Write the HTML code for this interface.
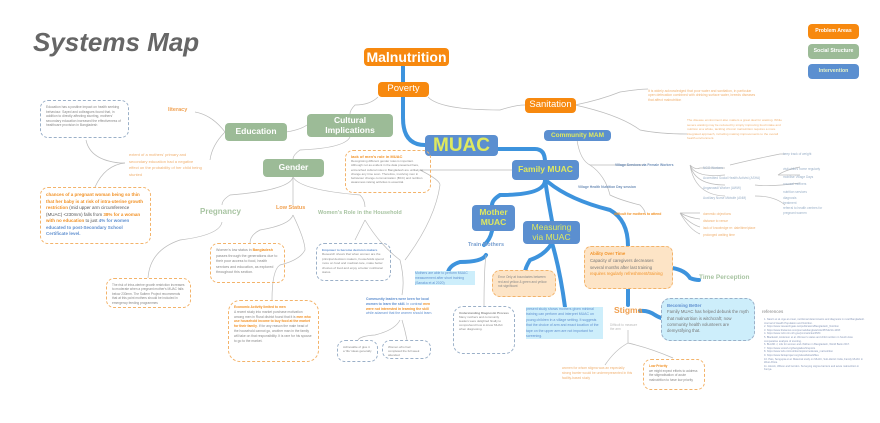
<!DOCTYPE html>
<html><head><meta charset="utf-8"><style>
body{margin:0;width:880px;height:423px;overflow:hidden;background:#fff;font-family:"Liberation Sans",sans-serif;position:relative}
.a{position:absolute;box-sizing:border-box}
.n{position:absolute;box-sizing:border-box;color:#fff;font-weight:bold;text-align:center;border-radius:4px;line-height:1.15;display:flex;align-items:center;justify-content:center;white-space:nowrap}
.o{background:#f7890f}.g{background:#9cbb97}.b{background:#5b8fd0;color:#dfe95f}
.t{position:absolute;font-size:4px;line-height:5px;color:#999}
.box{position:absolute;border:1px dashed #f3b36a;border-radius:8px;font-size:3.8px;line-height:5px;color:#888;padding:4px 5px;box-sizing:border-box;overflow:hidden}
.bb{border-color:#9bb0c8}
.or{color:#f29226}.bl{color:#5f8fcf}
</style></head><body>
<svg class="a" style="left:0;top:0" width="880" height="423">
<g fill="none" stroke="#3d93dd" stroke-width="4" stroke-linecap="round">
<path d="M403 65 V118 Q403 145 425 145"/>
<path d="M497 149 H535 Q545 149 545 162"/>
<path d="M545 180 Q545 195 500 195 Q492 200 492 205"/>
<path d="M545 180 Q548 200 552 221"/>
<path d="M548 182 Q570 200 610 210 Q628 220 628 246"/>
<path d="M552 243 Q560 270 565 307"/>
<path d="M552 243 Q545 255 530 260 Q525 268 525 273"/>
<path d="M492 231 Q490 240 484 245"/>
<path d="M486 255 Q482 262 460 262 Q450 265 448 272"/>
<path d="M672 268 Q685 270 690 278 Q695 280 699 280"/>
<path d="M628 288 V305"/>
<path d="M640 311 Q648 310 655 315 Q660 318 662 318"/>
</g>
<g fill="none" stroke="#bbb" stroke-width="0.7">
<path d="M428 97 Q440 110 500 110 Q515 105 525 105"/>
<path d="M575 105 Q600 100 620 92 Q640 89 648 89"/>
<path d="M575 105 Q620 115 640 130 Q660 134 687 134"/>
<path d="M378 97 Q370 105 355 105 Q350 110 350 114"/>
<path d="M307 125 Q300 130 286 132"/>
<path d="M225 132 Q212 115 195 112"/>
<path d="M225 132 Q212 145 210 160"/>
<path d="M350 137 Q345 148 300 150 Q293 155 293 159"/>
<path d="M293 177 Q290 190 230 195 Q222 200 222 205"/>
<path d="M293 177 V205"/>
<path d="M293 177 Q300 190 360 195 Q365 200 365 207"/>
<path d="M222 222 Q220 235 180 240 Q150 250 148 278"/>
<path d="M293 215 Q290 225 260 230 Q250 235 250 243"/>
<path d="M293 215 Q305 240 305 250 Q300 260 280 265 Q272 270 272 300"/>
<path d="M365 220 Q360 230 355 240"/>
<path d="M365 220 Q380 245 400 260 Q405 280 402 295"/>
<path d="M512 170 H420 Q440 180 440 185"/>
<path d="M440 185 Q435 220 405 260"/>
<path d="M577 140 Q580 160 590 165 H645"/>
<path d="M590 165 Q605 175 610 195 Q620 200 640 205 Q645 210 645 213"/>
<path d="M690 165 Q695 170 700 168 H725 M690 165 Q695 178 725 175 M690 165 Q695 185 725 185 M690 165 Q695 195 725 196"/>
<path d="M730 165 Q750 160 780 154 H785"/>
<path d="M778 175 Q785 170 800 167 M778 175 Q785 175 800 175"/>
<path d="M755 185 Q770 187 800 183"/>
<path d="M755 196 Q775 196 785 205"/>
<path d="M680 213 H700 M680 213 Q690 218 700 219 M680 213 Q690 224 700 227 M680 213 Q690 230 700 234"/>
<path d="M628 330 V343 Q615 350 605 365 M628 343 Q650 348 673 358"/>
<path d="M86 140 Q90 160 120 163 H125"/>
<path d="M125 163 Q105 165 95 187"/>
<path d="M400 320 Q395 330 375 335 Q360 336 358 340 M402 320 Q405 330 407 340"/>
<path d="M486 255 Q484 270 484 307"/>
</g>
</svg>
<div class="a" style="left:33px;top:27px;font-size:26px;font-weight:bold;font-style:italic;color:#666">Systems Map</div>
<div class="n o" style="left:364px;top:48px;width:85px;height:18px;font-size:14px">Malnutrition</div>
<div class="n o" style="left:378px;top:82px;width:51px;height:15px;font-size:9.5px;font-weight:normal">Poverty</div>
<div class="n o" style="left:525px;top:98px;width:51px;height:15px;font-size:9.5px;font-weight:normal">Sanitation</div>
<div class="n b" style="left:425px;top:135px;width:73px;height:21px;font-size:19px">MUAC</div>
<div class="n b" style="left:544px;top:130px;width:67px;height:11px;font-size:6.5px">Community MAM</div>
<div class="n b" style="left:512px;top:160px;width:67px;height:20px;font-size:8.5px">Family MUAC</div>
<div class="n b" style="left:472px;top:205px;width:43px;height:26px;font-size:8.5px">Mother<br>MUAC</div>
<div class="n b" style="left:523px;top:221px;width:57px;height:23px;font-size:8.5px;font-weight:normal">Measuring<br>via MUAC</div>
<div class="n g" style="left:225px;top:123px;width:62px;height:18px;font-size:8.5px">Education</div>
<div class="n g" style="left:307px;top:114px;width:86px;height:23px;font-size:8.5px">Cultural<br>Implications</div>
<div class="n g" style="left:263px;top:159px;width:61px;height:18px;font-size:8.5px">Gender</div>
<div class="n o" style="left:808px;top:24px;width:51px;height:15px;font-size:5.2px">Problem Areas</div>
<div class="n g" style="left:808px;top:44px;width:51px;height:15px;font-size:5.2px">Social Structure</div>
<div class="n b" style="left:808px;top:64px;width:51px;height:15px;font-size:5.2px;color:#e6f2c8">Intervention</div>
<div class="a or" style="left:168px;top:107px;font-size:5.5px;font-weight:bold;color:#f0a050">literacy</div>
<div class="a" style="left:200px;top:207px;font-size:8px;font-weight:bold;color:#a8c4a2">Pregnancy</div>
<div class="a" style="left:276px;top:205px;font-size:5.5px;font-weight:bold;color:#f0a050">Low Status</div>
<div class="a" style="left:318px;top:210px;font-size:5.5px;font-weight:bold;color:#a8c4a2">Women's Role in the Household</div>
<div class="a bl" style="left:468px;top:242px;font-size:5.5px;font-weight:bold;color:#7aa0d0">Train Mothers</div>
<div class="a" style="left:699px;top:274px;font-size:6.5px;font-weight:bold;color:#a8c4a2">Time Perception</div>
<div class="a" style="left:614px;top:305px;font-size:8.5px;font-weight:bold;color:#f0a050">Stigma</div>
<div class="box bb" style="left:40px;top:100px;width:89px;height:38px;font-size:3.3px;line-height:4.5px">Education has a positive impact on health seeking behaviour. Sayed and colleagues found that, in addition to directly affecting stunting, mothers' secondary education increased the effectiveness of healthcare provision in Bangladesh</div>
<div class="t or" style="left:129px;top:152px;width:75px;font-size:4px;line-height:6.5px;color:#f0b070">extent of a mothers' primary and secondary education had a negative effect on the probability of her child being stunted</div>
<div class="box" style="left:40px;top:187px;width:111px;height:57px;font-size:4.5px;line-height:6.5px;color:#555;border-width:1.3px"><b class="or">chances of a pregnant woman being so thin that her baby is at risk of intra-uterine growth restriction</b> (mid upper arm circumference (MUAC) &lt;230mm) falls from <b class="or">38% for a woman with no education</b> to just <b class="bl">4% for women educated to post-Secondary School Certificate level.</b></div>
<div class="box" style="left:106px;top:278px;width:85px;height:30px;font-size:3.2px;line-height:4.4px">The risk of intra-uterine growth restriction increases to moderate when a pregnant mother's MUAC falls below 230mm. The Saltern Project recommends that at this point mothers should be included in emergency feeding programmes</div>
<div class="box" style="left:210px;top:243px;width:75px;height:40px;font-size:3.6px;line-height:5.5px">Women's low status in <b class="or">Bangladesh</b> passes through the generations due to their poor access to food, health services and education, as explored throughout this section.</div>
<div class="box" style="left:228px;top:300px;width:91px;height:62px;font-size:3.3px;line-height:4.8px;border-radius:12px"><b class="or">Economic Activity limited to men</b><br>A recent study into market purchase motivation among men in Rural district found that it is <b class="or">men who use household income to buy food at the market for their family</b>. If for any reason the male head of the household cannot go, another man in the family will take on that responsibility. It is rare for his spouse to go to the market.</div>
<div class="box bb" style="left:316px;top:243px;width:75px;height:38px;font-size:3.1px;line-height:4.4px"><b class="bl">Empower to become decision makers</b><br>Research shows that when women are the principal decision makers, households spend more on food and medical care, make better choices of food and enjoy a better nutritional status.</div>
<div class="box" style="left:345px;top:150px;width:86px;height:43px;font-size:3px;line-height:4.2px"><b class="or" style="font-size:4px">lack of men's role in MUAC</b><br>Recognising different gender roles is important. Although not as evident in the data presented here, entrenched cultural roles in Bangladesh are unlikely to change any time soon. Therefore, involving men in behaviour change communication (BCC) and nutrition awareness raising activities is essential.</div>
<div class="t bl" style="left:366px;top:297px;width:70px;font-size:3.4px;line-height:4.8px"><b>Community leaders were keen for local women to learn the skill.</b> In contrast <b class="or">men were not interested in learning the skill</b> while adamant that the women should learn.</div>
<div class="box bb" style="left:337px;top:340px;width:41px;height:22px;font-size:3px;line-height:4px">Achievable of give it a 'life' ideas generally</div>
<div class="box bb" style="left:382px;top:340px;width:49px;height:19px;font-size:3px;line-height:4px">Women who had completed the full week attended</div>
<div class="t" style="left:415px;top:271px;width:60px;font-size:3.4px;line-height:4.8px;background:#cdeefb;color:#5f8fcf">Mothers are able to perform MUAC measurement after short training (Sanaka et al 2020)</div>
<div class="box bb" style="left:453px;top:306px;width:62px;height:48px;font-size:3px;line-height:4px;border-radius:10px"><b>Understanding Diagnostic Process</b><br>Many mothers and community leaders were delighted finally to comprehend how to know MUAC when diagnosing.</div>
<div class="box" style="left:492px;top:270px;width:64px;height:27px;background:#fde4c6;font-size:3.2px;line-height:4.5px">Error Only at boundaries between red and yellow &amp; green and yellow not significant</div>
<div class="t" style="left:526px;top:307px;width:77px;font-size:3.5px;line-height:5.4px;background:#cdeefb;color:#5f8fcf">present study shows mothers given minimal training can perform and interpret MUAC on young children in a village setting. It suggests that the choice of arm and exact location of the tape on the upper arm are not important for screening.</div>
<div class="box" style="left:584px;top:246px;width:89px;height:43px;background:#fde4c6;font-size:4.3px;line-height:6.8px;color:#777;border-radius:7px"><b class="or">Ability Over Time</b><br>Capacity of caregivers decreases several months after last training <span class="or">requires regularly refreshment/training</span></div>
<div class="box bb" style="left:661px;top:298px;width:94px;height:43px;background:#cdeefb;font-size:4.3px;line-height:6.3px;color:#777;border-radius:9px"><b class="bl">Becoming Better</b><br>Family MUAC has helped debunk the myth that malnutrition is witchcraft; now community health volunteers are demystifying that.</div>
<div class="t" style="left:610px;top:323px;width:32px;font-size:3.2px;line-height:4.4px;color:#bbb">Difficult to measure the arm</div>
<div class="t or" style="left:562px;top:366px;width:72px;font-size:3.3px;line-height:4.8px;color:#f0b070">women for whom stigma was an especially strong barrier would be underrepresented in this facility-based study</div>
<div class="box" style="left:643px;top:359px;width:62px;height:31px;font-size:3.2px;line-height:4.6px"><b class="or">Low Priority</b><br>we might expect efforts to address the stigmatisation of acute malnutrition to have low priority</div>
<div class="t" style="left:648px;top:89px;width:110px;font-size:3.4px;line-height:4.4px;color:#f0b070">It is widely acknowledged that poor water and sanitation, in particular open defecation combined with drinking surface water, breeds diseases that affect malnutrition</div>
<div class="t" style="left:687px;top:118px;width:95px;font-size:3.1px;line-height:4.6px;color:#f0b070">The disease environment also matters a great deal for wasting. While severe wasting may be reduced by simply improving food intake and nutrition at a whole, tackling chronic malnutrition requires a more integrated approach, including making improvements to the overall health environment.</div>
<div class="t" style="left:615px;top:163px;font-size:3.4px;color:#6f8fb8;font-weight:bold">Village Services via Female Workers</div>
<div class="t" style="left:578px;top:185px;font-size:3.4px;color:#6f8fb8;font-weight:bold">Village Health Nutrition Day session</div>
<div class="t" style="left:703px;top:163px;font-size:3.2px;color:#9bb0c8;line-height:10px">NGO Workers<br>Accredited Social Health Activist (ASHA)<br>Anganwadi Worker (AWW)<br>Auxiliary Nurse Midwife (ANM)</div>
<div class="t" style="left:783px;top:151px;font-size:3.2px;color:#9bb0c8;line-height:7.5px">keep track of weight<br><br>visit child's home regularly<br>mobilise Village Days<br>counsel mothers<br>nutrition services</div>
<div class="t" style="left:783px;top:196px;font-size:3.2px;color:#9bb0c8;line-height:5px">diagnosis<br>treatment<br>referral to health centres for<br>pregnant women</div>
<div class="t" style="left:614px;top:212px;font-size:3.4px;color:#f29226;font-weight:bold">difficult for mothers to attend</div>
<div class="t" style="left:703px;top:211px;font-size:3.2px;color:#f0b070;line-height:7px">domestic objections<br>distance to venue<br>lack of knowledge re: date/time/place<br>prolonged waiting time</div>
<div class="t" style="left:762px;top:309px;font-size:4.5px;color:#888">references</div>
<div class="t" style="left:764px;top:318px;width:102px;font-size:2.6px;line-height:3.6px;color:#8898b8">1. Nasrin et al. Age at onset, nutritional determinants and diagnosis in rural Bangladesh. Journal of Health Population and Nutrition.<br>2. https://www.researchgate.net/publication/Bangladesh_Nutrition<br>3. https://www.thelancet.com/journals/langlo/article/PIIS2214-109X<br>4. https://www.ncbi.nlm.nih.gov/pmc/articles/PMC<br>5. Blackwell, Anderson et al. Women's status and child nutrition in South Asia: comparative analysis of stunting.<br>6. BLANK J, Life for women and children in Bangladesh, World Bank 2017.<br>7. https://www.unicef.org/bangladesh/reports<br>8. https://www.who.int/nutrition/topics/moderate_malnutrition<br>9. https://www.fantaproject.org/sites/default/files<br>10. Pais, Sengupta et al. Maternal study on MUAC, Sub-district India, Family MUAC in West Africa.<br>11. Alcock, Wilson and Gordon. Surveying stigma barriers and acute malnutrition in Kenya.</div>
</body></html>
